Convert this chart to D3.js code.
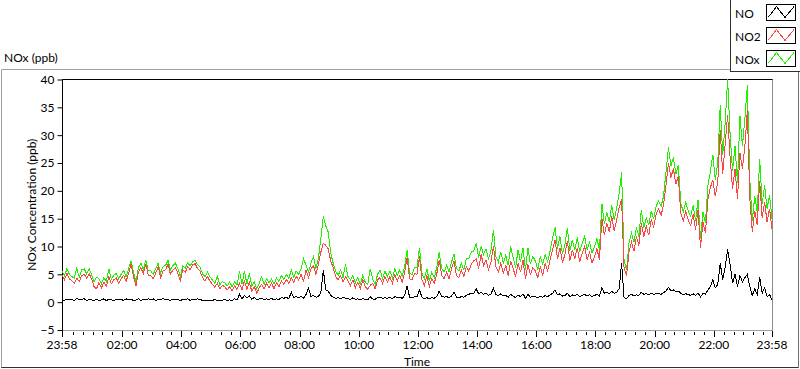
<!DOCTYPE html>
<html>
<head>
<meta charset="utf-8">
<script src="https://cdn.jsdelivr.net/npm/d3@7"></script>
<style>
  html, body { margin: 0; padding: 0; background: #fff; }
  svg { display: block; }
  text { font-family: "Segoe UI", Lato, "Noto Sans", sans-serif; font-size: 12px; fill: #000; }
</style>
</head>
<body>
<svg id="chart" width="800" height="369"></svg>
<script>
// ---- data (5-minute readings starting at 23:58) ----
const seriesNames = ["NO", "NO2", "NOx"];
const yTickValues = [-5, 0, 5, 10, 15, 20, 25, 30, 35, 40];
const xTickLabels = ["23:58", "02:00", "04:00", "06:00", "08:00", "10:00", "12:00",
                     "14:00", "16:00", "18:00", "20:00", "22:00", "23:58"];
const stepMinutes = 5;

const NO2 = [
  4.8,4.0,5.2,4.2,3.8,3.4,4.3,3.7,4.8,5.0,4.3,5.1,
  4.2,2.8,2.4,3.5,2.6,3.6,2.9,4.6,3.3,4.0,4.4,3.4,
  4.2,4.8,3.7,5.2,6.8,4.6,2.9,5.4,6.2,5.1,6.9,4.8,
  4.8,4.2,5.2,6.4,4.4,5.6,5.8,6.8,5.0,5.8,6.2,5.2,
  3.8,5.8,5.4,6.4,5.8,6.7,6.9,6.0,5.6,4.4,3.8,4.6,
  3.8,3.2,2.7,3.4,2.4,3.0,2.8,2.2,2.8,2.0,2.9,2.3,
  3.4,2.2,3.8,2.3,3.6,1.9,2.8,1.6,2.6,3.2,2.4,3.4,
  2.6,3.4,2.4,3.5,2.8,3.8,3.2,4.1,3.3,4.4,3.6,4.6,
  4.0,5.0,3.8,5.8,4.4,6.0,6.6,5.0,6.8,9.0,10.6,10.2,
  9.6,7.4,6.2,4.6,4.0,4.8,3.6,4.6,3.8,3.0,4.0,2.6,
  3.6,2.4,4.0,2.8,2.3,3.0,3.4,2.4,4.0,4.4,3.4,4.6,
  3.6,4.6,3.4,5.0,3.8,4.8,3.6,5.4,8.0,4.2,4.0,5.2,
  5.0,8.2,4.0,3.0,4.8,2.8,4.2,3.4,5.0,7.6,4.8,4.2,
  5.4,4.2,6.0,7.4,4.8,4.4,5.8,4.6,6.4,5.6,6.8,7.4,
  7.8,6.0,8.6,6.6,7.6,5.8,7.2,10.0,6.4,5.4,7.0,5.2,
  6.6,4.8,7.4,6.0,4.6,7.0,5.4,7.6,4.2,6.8,5.0,6.2,
  5.6,4.4,6.4,4.8,7.0,5.6,7.6,9.4,11.2,7.8,9.8,7.0,
  8.6,11.0,7.4,9.4,7.8,9.8,7.2,8.8,10.0,7.6,9.0,7.0,
  8.2,9.6,7.6,15.0,12.0,14.2,12.6,15.4,12.8,14.8,17.0,18.5,
  6.0,4.8,9.0,10.8,9.2,11.8,10.2,14.2,11.8,13.6,12.0,14.8,
  13.6,15.8,16.8,15.6,17.4,21.0,25.0,22.4,24.0,21.2,22.6,16.0,
  14.6,16.4,14.8,13.8,15.8,13.0,16.6,9.8,14.4,12.4,18.4,20.6,
  22.0,19.0,21.6,31.0,23.0,28.4,33.6,26.0,20.4,24.0,18.6,26.8,
  24.0,28.0,34.5,18.6,12.6,16.4,13.8,21.8,15.2,18.0,14.4,16.8,
  13.2
];

const NOx = [
  5.5,4.7,6.0,5.0,4.6,4.3,6.1,4.5,5.8,6.0,5.1,6.0,
  5.0,3.6,4.5,4.2,3.3,4.4,3.7,6.0,4.1,4.8,5.2,4.2,
  5.0,5.7,4.5,6.0,7.4,5.4,3.7,6.2,7.0,5.9,7.6,5.6,
  5.6,5.0,6.0,7.0,5.2,6.4,6.6,7.5,5.8,6.6,7.0,6.0,
  4.6,6.5,6.1,7.1,6.5,7.3,7.5,6.7,6.3,5.1,4.6,5.4,
  4.6,4.0,3.4,4.7,3.1,3.7,3.5,2.9,3.6,2.8,3.7,3.1,
  5.5,3.2,5.6,3.2,5.2,2.9,3.7,2.4,3.4,4.6,3.2,4.2,
  3.4,4.2,3.2,4.3,3.7,4.8,4.1,5.0,4.2,5.8,4.5,5.6,
  5.0,6.0,7.8,6.6,5.4,7.0,8.2,6.0,7.8,11.5,15.5,13.7,
  12.6,8.8,7.0,5.6,4.8,5.8,4.4,6.8,4.6,4.0,4.8,3.5,
  4.4,3.2,4.8,3.6,3.1,6.0,4.2,3.2,5.0,5.8,4.3,5.6,
  4.6,5.6,4.3,6.0,4.8,5.8,4.6,6.4,9.4,5.2,5.0,6.2,
  6.2,9.8,5.2,4.2,6.0,3.8,5.4,4.4,6.2,9.0,6.0,5.4,
  6.6,5.4,7.2,8.6,6.0,5.6,7.0,5.8,7.8,7.8,9.0,9.2,
  10.6,8.0,10.0,8.6,9.6,7.8,9.2,13.0,8.2,7.2,9.0,7.0,
  8.4,6.6,10.0,8.0,6.2,9.4,7.2,9.8,5.8,9.8,6.8,8.2,
  7.4,5.8,8.2,6.8,8.6,7.2,9.2,11.6,13.4,9.6,11.8,8.6,
  10.4,13.4,9.2,11.2,9.4,11.6,9.0,10.6,11.8,9.4,10.8,8.8,
  10.0,11.4,9.4,17.7,14.0,16.2,14.4,17.4,14.8,17.0,19.5,23.3,
  7.4,5.8,10.6,12.4,10.8,13.4,11.8,16.6,13.4,15.2,13.8,16.4,
  15.0,17.2,18.2,17.2,19.0,23.4,27.8,24.4,26.0,23.0,24.6,17.8,
  16.2,18.0,16.4,15.4,17.4,14.6,18.4,11.4,16.2,14.2,21.0,23.4,
  26.5,22.0,25.0,35.4,26.4,32.2,40.0,30.2,23.6,28.0,21.4,33.5,
  28.0,33.0,39.0,22.0,14.6,19.0,16.2,25.8,17.6,21.0,16.8,19.2,
  15.0
];

const NO = [
  0.5,0.3,0.6,0.4,0.5,0.3,0.7,0.4,0.5,0.6,0.3,0.5,
  0.4,0.3,0.5,0.3,0.4,0.6,0.3,0.5,0.4,0.3,0.5,0.4,
  0.5,0.3,0.6,0.4,0.5,0.3,0.4,0.6,0.3,0.5,0.4,0.6,
  0.4,0.6,0.3,0.5,0.4,0.7,0.4,0.5,0.3,0.6,0.4,0.5,
  0.3,0.5,0.4,0.6,0.3,0.5,0.4,0.6,0.5,0.3,0.4,0.3,
  0.4,0.3,0.5,0.2,0.4,0.3,0.5,0.3,0.4,0.3,0.6,0.4,
  1.4,0.6,1.2,0.8,1.1,0.5,0.9,0.4,0.6,0.7,0.4,0.6,
  0.5,0.7,0.4,0.6,0.5,0.8,0.7,0.9,0.6,1.8,0.8,1.0,
  0.8,1.0,0.7,1.4,2.5,1.0,1.2,0.9,1.0,1.8,5.8,2.2,
  2.0,1.2,0.9,0.7,0.8,0.6,0.9,0.7,0.6,0.5,0.8,0.5,
  0.6,0.4,0.7,0.5,0.4,1.0,0.6,0.5,0.8,0.9,0.7,0.8,
  0.7,0.9,0.6,1.0,0.8,0.9,0.7,1.2,2.9,0.9,0.8,1.0,
  1.0,2.2,0.9,0.6,0.8,0.6,0.8,0.7,1.0,2.0,1.1,0.9,
  1.0,0.8,1.1,1.8,0.9,0.8,1.0,0.9,1.2,1.4,1.6,1.5,
  2.4,1.5,1.8,1.4,1.6,1.2,1.5,2.5,1.4,1.2,1.5,1.1,
  1.2,0.9,1.4,1.1,0.8,1.3,1.0,1.5,0.7,1.4,0.9,1.0,
  1.0,0.8,1.1,0.9,1.2,1.0,1.3,1.6,2.2,1.3,1.5,1.1,
  1.2,1.6,1.0,1.3,1.1,1.4,1.0,1.2,1.4,1.1,1.3,1.0,
  1.2,1.4,1.1,2.6,1.6,1.8,1.5,1.9,1.6,1.8,2.4,7.0,
  0.8,0.6,1.2,1.4,1.1,1.3,1.2,1.8,1.4,1.5,1.3,1.6,
  1.4,1.5,1.6,1.4,1.7,2.0,2.6,2.1,2.2,1.9,2.0,1.6,
  1.3,1.5,1.4,1.2,1.5,1.2,1.7,0.9,1.6,1.4,2.2,2.8,
  4.0,2.6,3.2,7.0,4.0,6.2,9.5,6.8,3.4,5.0,2.8,4.8,
  3.6,4.4,5.0,2.8,1.2,2.4,1.4,4.5,1.6,2.6,1.0,1.4,
  0.4
];

const seriesColors = { NO: "#000000", NO2: "#ff4444", NOx: "#22ee00" };

// ---- layout ----
const svg = d3.select("#chart");
const plot = { left: 62, right: 772, top: 79.5, bottom: 330 };

const t0 = new Date(2020, 0, 1, 23, 58);
const t1 = new Date(t0.getTime() + 24 * 3600 * 1000);
const x = d3.scaleTime().domain([t0, t1]).range([plot.left, plot.right]);
const y = d3.scaleLinear().domain([-5, 40]).range([plot.bottom, plot.top]);

const timeAt = i => new Date(t0.getTime() + i * stepMinutes * 60000);

// panel frame
svg.append("line").attr("x1", 1.5).attr("x2", 730).attr("y1", 69.5).attr("y2", 69.5).attr("stroke", "#a0a0a0");
svg.append("line").attr("x1", 1.5).attr("x2", 1.5).attr("y1", 69.5).attr("y2", 368).attr("stroke", "#a0a0a0");
svg.append("line").attr("x1", 1.5).attr("x2", 799).attr("y1", 367.5).attr("y2", 367.5).attr("stroke", "#303030");
svg.append("line").attr("x1", 798.5).attr("x2", 798.5).attr("y1", 0).attr("y2", 368).attr("stroke", "#707070");

// title
svg.append("text").attr("x", 4).attr("y", 62).text("NOx (ppb)");

// plot frame
svg.append("line").attr("x1", plot.left).attr("x2", plot.right + 1).attr("y1", plot.top).attr("y2", plot.top).attr("stroke", "#000");
svg.append("line").attr("x1", plot.right + 0.5).attr("x2", plot.right + 0.5).attr("y1", plot.top).attr("y2", plot.bottom + 0.5).attr("stroke", "#8a8a8a");
svg.append("line").attr("x1", plot.left).attr("x2", plot.right + 1).attr("y1", plot.bottom + 0.5).attr("y2", plot.bottom + 0.5).attr("stroke", "#a0a0a0");

// y axis
const yAxis = d3.axisLeft(y).tickValues(yTickValues).tickSize(5).tickPadding(3).tickFormat(d3.format("d"));
const yg = svg.append("g").attr("transform", `translate(${plot.left + 0.5},0)`).call(yAxis);
yg.select(".domain").attr("d", `M0,${plot.top}V${plot.bottom + 1}`).attr("stroke", "#000");
yg.selectAll("text").style("font-family", null).style("font-size", null).attr("font-family", null).attr("font-size", null);

// x axis ticks
const majorTimes = [t0];
for (let h = 2; h <= 22; h += 2) majorTimes.push(new Date(2020, 0, 2, h, 0));
majorTimes.push(t1);
const minorTimes = d3.timeMinute.every(20).range(t0, t1).filter(t => t.getMinutes() !== 0 || t.getHours() % 2 !== 0);

const xg = svg.append("g");
xg.selectAll("line.minor").data(minorTimes).join("line")
  .attr("x1", d => Math.round(x(d)) + 0.5).attr("x2", d => Math.round(x(d)) + 0.5)
  .attr("y1", plot.bottom + 2).attr("y2", plot.bottom + 5).attr("stroke", "#000");
xg.selectAll("line.major").data(majorTimes).join("line")
  .attr("x1", d => Math.round(x(d)) + 0.5).attr("x2", d => Math.round(x(d)) + 0.5)
  .attr("y1", plot.bottom + 1).attr("y2", plot.bottom + 7).attr("stroke", "#000");
xg.selectAll("text").data(majorTimes).join("text")
  .attr("x", d => x(d)).attr("y", plot.bottom + 19).attr("text-anchor", "middle")
  .text((d, i) => xTickLabels[i]);

// axis titles
svg.append("text").attr("x", 417).attr("y", 366).attr("text-anchor", "middle").text("Time");
svg.append("text").attr("transform", `translate(36,${(plot.top + plot.bottom) / 2}) rotate(-90)`)
  .attr("text-anchor", "middle").text("NOx Concentration (ppb)");

// lines
const line = d3.line().x((d, i) => x(timeAt(i))).y(d => y(d));
const plotG = svg.append("g");
[["NOx", NOx], ["NO2", NO2], ["NO", NO]].forEach(([name, vals]) => {
  plotG.append("path").datum(vals).attr("d", line)
    .attr("fill", "none").attr("stroke", seriesColors[name]).attr("stroke-width", 1)
    .attr("shape-rendering", "crispEdges");
});

// legend
const lg = svg.append("g");
lg.append("rect").attr("x", 730.5).attr("y", -1).attr("width", 70).attr("height", 72.5)
  .attr("fill", "#fff").attr("stroke", "#303030");
seriesNames.forEach((name, i) => {
  const y0 = 4.5 + i * 23;
  lg.append("text").attr("x", 735).attr("y", y0 + 13).text(name);
  lg.append("rect").attr("x", 766.5).attr("y", y0).attr("width", 29).attr("height", 16)
    .attr("fill", "#fff").attr("stroke", "#000");
  lg.append("polyline")
    .attr("points", [[768.5, y0 + 12.5], [776.5, y0 + 2], [785, y0 + 13], [794, y0 + 2]].map(p => p.join(",")).join(" "))
    .attr("fill", "none").attr("stroke", seriesColors[name]).attr("shape-rendering", "crispEdges");
});
</script>
</body>
</html>
